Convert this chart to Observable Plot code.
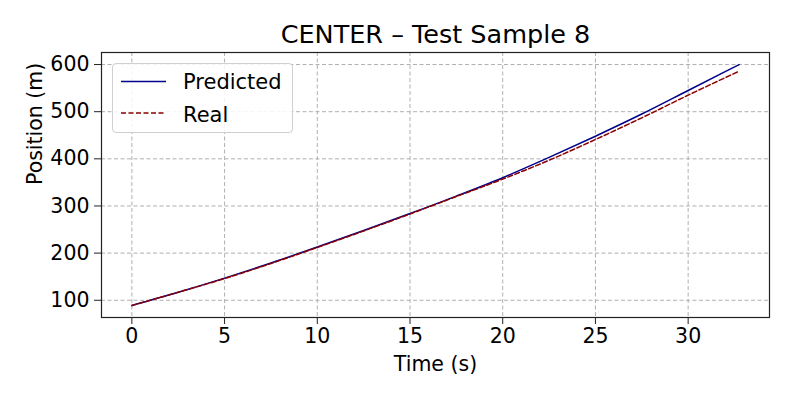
<!DOCTYPE html>
<html>
<head>
<meta charset="utf-8">
<script src="https://cdn.jsdelivr.net/npm/d3@7"></script>
<script src="https://cdn.jsdelivr.net/npm/@observablehq/plot@0.6"></script>
<style>
  html, body { margin: 0; padding: 0; background: #fff; }
  #wrap { position: relative; width: 793px; height: 397px; font-family: "DejaVu Sans", sans-serif; }
  #legend { position: absolute; left: 112px; top: 63px; width: 181px; height: 70px;
    border: 1px solid #d0d0d0; border-radius: 4px; background: rgba(255,255,255,0.85); box-sizing: border-box; }
  #legend svg { position: absolute; left: 0; top: 0; }
  .lt { position: absolute; font-size: 21px; color: #000; line-height: 1; white-space: nowrap; }
</style>
</head>
<body>
<div id="wrap"></div>
<script>
const title = "CENTER – Test Sample 8";
const xLabel = "Time (s)";
const yLabel = "Position (m)";
const seriesNames = ["Predicted", "Real"];
const time = [0, 2.5, 5, 7.5, 10, 12.5, 15, 17.5, 20, 22.5, 25, 27.5, 30, 32.75];
const predicted = [89, 117, 147, 179, 213, 248, 284, 321, 360, 403, 448, 495, 545, 600];
const real = [89, 117, 146, 178, 212, 247, 283, 320, 357, 397, 441, 487, 535, 586];
const xTicks = [0, 5, 10, 15, 20, 25, 30];
const yTicks = [100, 200, 300, 400, 500, 600];

const predRows = time.map((t, i) => ({t, v: predicted[i]}));
const realRows = time.map((t, i) => ({t, v: real[i]}));

function pad(ext) { const r = ext[1] - ext[0]; return [ext[0] - 0.05 * r, ext[1] + 0.05 * r]; }
const xDomain = pad(d3.extent(time));
const yDomain = pad(d3.extent(predicted.concat(real)));

const FS = 20.5;
const plot = Plot.plot({
  width: 793,
  height: 397,
  marginLeft: 101,
  marginRight: 24,
  marginTop: 52,
  marginBottom: 80,
  style: { fontFamily: "DejaVu Sans, sans-serif", background: "transparent", color: "#000" },
  x: { domain: xDomain },
  y: { domain: yDomain },
  marks: [
    Plot.gridX(xTicks, { stroke: "#b0b0b0", strokeOpacity: 1, strokeWidth: 1, strokeDasharray: "4,2.5" }),
    Plot.gridY(yTicks, { stroke: "#b0b0b0", strokeOpacity: 1, strokeWidth: 1, strokeDasharray: "4,2.5" }),
    Plot.line(predRows, { x: "t", y: "v", stroke: "#00008b", strokeWidth: 1.5, curve: "monotone-x" }),
    Plot.line(realRows, { x: "t", y: "v", stroke: "#8b0000", strokeWidth: 1.5, strokeDasharray: "5,2.5", curve: "monotone-x" }),
    Plot.frame({ stroke: "#222", strokeWidth: 1.2 }),
    Plot.axisX(xTicks, { tickSize: 7, tickPadding: 4, fontSize: FS, label: null, stroke: "#222" }),
    Plot.axisY(yTicks, { tickSize: 7, tickPadding: 5, fontSize: FS, label: null, stroke: "#222" }),
    Plot.text([title], { frameAnchor: "top", dy: -17.5, lineAnchor: "middle", fontSize: 25.5, fill: "#000" }),
    Plot.text([xLabel], { frameAnchor: "bottom", dy: 47, lineAnchor: "middle", fontSize: FS, fill: "#000" }),
    Plot.text([yLabel], { frameAnchor: "left", dx: -66, rotate: -90, lineAnchor: "middle", fontSize: FS, fill: "#000" })
  ]
});
const wrap = document.getElementById("wrap");
wrap.appendChild(plot);

// legend
const leg = document.createElement("div");
leg.id = "legend";
leg.innerHTML = `
<svg width="181" height="70">
  <line x1="8" x2="53" y1="17.5" y2="17.5" stroke="#00008b" stroke-width="1.5"/>
  <line x1="8" x2="53" y1="49" y2="49" stroke="#8b0000" stroke-width="1.5" stroke-dasharray="5,2.5"/>
</svg>
<div class="lt" style="left:70px; top:8px">${seriesNames[0]}</div>
<div class="lt" style="left:70px; top:41px">${seriesNames[1]}</div>`;
wrap.appendChild(leg);
</script>
</body>
</html>
